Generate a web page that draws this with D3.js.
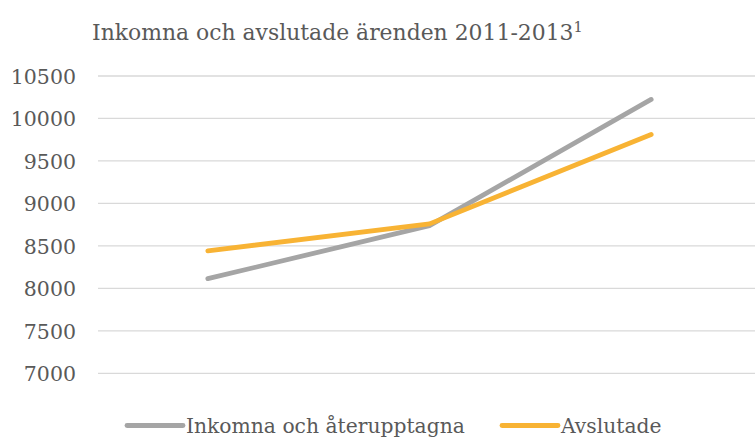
<!DOCTYPE html>
<meta charset="utf-8">
<style>
body { margin: 0; background: #fff; }
svg text { font-family: "DejaVu Serif", serif; fill: #595959; }
</style>
<body>
<div id="chart"></div>
<script src="https://cdn.jsdelivr.net/npm/d3@7"></script>
<script>
// data
var years = ["2011", "2012", "2013"];
var inkomna = [8114, 8739, 10224];
var avslutade = [8441, 8759, 9812];
var seriesNames = ["Inkomna och återupptagna", "Avslutade"];
var yTicks = [7000, 7500, 8000, 8500, 9000, 9500, 10000, 10500];

var width = 755, height = 437;
var colors = ["#a5a5a5", "#f8b334"];

var svg = d3.select("#chart").append("svg")
  .attr("width", width).attr("height", height);

// scales
var x = d3.scaleBand().domain(years).range([97, 762]);
var y = d3.scaleLinear().domain([7000, 10500]).range([373.3, 76]);

// title
var title = svg.append("text")
  .attr("x", 92).attr("y", 40)
  .attr("font-size", 21.9)
  .text("Inkomna och avslutade ärenden 2011-2013");
title.append("tspan")
  .attr("dy", -8).attr("font-size", 14.5)
  .text("1");

// grid
svg.append("g").selectAll("line")
  .data(yTicks).enter().append("line")
  .attr("x1", 98).attr("x2", width)
  .attr("y1", function(d) { return y(d); })
  .attr("y2", function(d) { return y(d); })
  .attr("stroke", "#d9d9d9").attr("stroke-width", 1.3);

// y axis labels
var yAxis = svg.append("g")
  .attr("transform", "translate(76,0)")
  .call(d3.axisLeft(y).tickValues(yTicks).tickFormat(d3.format("d")).tickSize(0).tickPadding(0));
yAxis.select(".domain").remove();
yAxis.attr("font-family", null).attr("font-size", null);
yAxis.selectAll("text")
  .attr("font-size", 20.5)
  .attr("fill", null)
  .attr("dy", "0.35em");

// lines
var line = d3.line()
  .x(function(d, i) { return x(years[i]) + x.bandwidth() / 2; })
  .y(function(d) { return y(d); });

[inkomna, avslutade].forEach(function(s, i) {
  svg.append("path")
    .datum(s)
    .attr("d", line)
    .attr("fill", "none")
    .attr("stroke", colors[i])
    .attr("stroke-width", 4.8)
    .attr("stroke-linecap", "round")
    .attr("stroke-linejoin", "round");
});

// legend
var legendX = [127, 502];
var legend = svg.append("g").selectAll("g")
  .data(seriesNames).enter().append("g")
  .attr("transform", function(d, i) { return "translate(" + legendX[i] + ",425.5)"; });
legend.append("line")
  .attr("x1", 0).attr("x2", 56)
  .attr("stroke", function(d, i) { return colors[i]; })
  .attr("stroke-width", 4.8)
  .attr("stroke-linecap", "round");
legend.append("text")
  .attr("x", 59).attr("y", 7)
  .attr("font-size", 20.3)
  .text(function(d) { return d; });
</script>
</body>
